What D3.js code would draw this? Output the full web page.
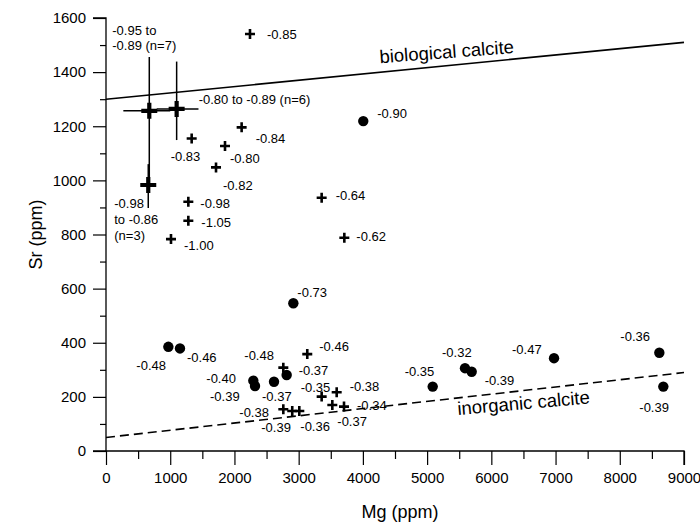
<!DOCTYPE html>
<html><head><meta charset="utf-8">
<script src="https://cdn.jsdelivr.net/npm/d3@7"></script>
<style>
html,body{margin:0;padding:0;background:#fff;}
svg{display:block;font-family:"Liberation Sans",Arial,sans-serif;}
</style></head>
<body>
<svg id="chart" width="700" height="530"></svg>
<script>
// ---------- DATA ----------
// small crosses (+)
const crossMg = [2242, 2112, 1853, 1334, 1713, 1282, 1282, 1012, 3358, 3711,
                 2761, 3134, 3358, 3592, 3524, 3706, 2761, 2900, 3010];
const crossSr = [1541, 1196, 1127, 1155, 1048, 921, 851, 783, 936, 788,
                 308, 358, 201, 217, 170, 164, 154, 148, 148];
const crossLabels = ["-0.85","-0.84","-0.80","-0.83","-0.82","-0.98","-1.05","-1.00","-0.64","-0.62",
                     "-0.48","-0.46","-0.35","-0.38","-0.37","-0.34","-0.38","-0.39","-0.36"];
// filled circles
const circleMg = [4006, 2917, 971, 1152, 2294, 2320, 2616, 2813, 5087, 5590, 5694, 6976, 8616, 8678];
const circleSr = [1219, 546, 385, 379, 260, 240, 256, 281, 238, 306, 293, 343, 363, 238];
const circleLabels = ["-0.90","-0.73","-0.48","-0.46","-0.40","-0.39","-0.37","-0.37","-0.35","-0.32","-0.39","-0.47","-0.36","-0.39"];
// grouped means with ranges (large crosses)
const groupMg = [674, 1100, 658];
const groupSr = [1257, 1264, 983];
const groupMgLow = [270, 790, 658];
const groupMgHigh = [1000, 1440, 658];
const groupSrLow = [983, 1149, 898];
const groupSrHigh = [1456, 1439, 1060];
const groupLabels = [["-0.95 to","-0.89 (n=7)"], ["-0.80 to -0.89 (n=6)"], ["-0.98","to -0.86","(n=3)"]];
// reference lines
const lineMg = [0, 9000];
const bioSr = [1300, 1510];
const inorgSr = [50, 290];
const lineNames = ["biological calcite", "inorganic calcite"];
// axis ticks
const xTicks = [0,1000,2000,3000,4000,5000,6000,7000,8000,9000];
const yTicks = [0,200,400,600,800,1000,1200,1400,1600];

// ---------- LAYOUT (label offsets in px) ----------
const crossLabelOff = [[17,5],[14,16],[5,17],[-21,23],[7,23],[12,6],[13,6],[13,11],[14,2],[12,3],
                       [-39,-8],[12,-3],[-21,-5],[13,-1],[5,21],[13,3],[-44,8],[-31,21],[1,20]];
const circleLabelOff = [[14,-3],[4,-6],[-32,23],[7,14],[-47,2],[-45,15],[-12,19],[12,0],
                        [-28,-11],[-23,-11],[13,13],[-42,-4],[-39,-12],[-24,25]];
const groupLabelOff = [[-37,-76],[22,-5],[-34,23]];
const groupLineGap = [15,15,16];

// ---------- CHART ----------
const svg = d3.select("#chart");
const x = d3.scaleLinear().domain([0, 9000]).range([106, 684]);
const y = d3.scaleLinear().domain([0, 1600]).range([451, 18]);
const ink = "#000";

// axes
const xAxis = svg.append("g").attr("transform", `translate(0,${y(0)})`)
  .call(d3.axisBottom(x).tickValues(xTicks).tickSize(14).tickPadding(7).tickFormat(d3.format("d")));
const xMinor = svg.append("g").attr("transform", `translate(0,${y(0)})`)
  .call(d3.axisBottom(x).tickValues(d3.range(500, 9000, 1000)).tickSize(8).tickFormat(""));
xMinor.select(".domain").remove();
const yAxis = svg.append("g").attr("transform", `translate(${x(0)},0)`)
  .call(d3.axisLeft(y).tickValues(yTicks).tickSize(13).tickPadding(7).tickFormat(d3.format("d")));
const yMinor = svg.append("g").attr("transform", `translate(${x(0)},0)`)
  .call(d3.axisLeft(y).tickValues(d3.range(100, 1600, 200)).tickSize(6).tickFormat(""));
yMinor.select(".domain").remove();
svg.selectAll(".domain").attr("stroke", ink).attr("stroke-width", 1.3);
svg.selectAll(".tick line").attr("stroke", ink).attr("stroke-width", 1.2);
svg.selectAll(".tick text").attr("fill", ink).style("font-size", "15px").style("font-family", '"Liberation Sans",Arial,sans-serif');
xAxis.select(".domain").attr("d", `M${x(0)-13},0H${x(9000)}V14`);
yAxis.select(".domain").attr("d", `M-13,${y(1600)}H0V${y(0)}`);

svg.append("text").attr("x", 400).attr("y", 518).attr("text-anchor", "middle")
  .style("font-size", "18px").text("Mg (ppm)");
svg.append("text").attr("transform", `translate(42,${(y(0)+y(1600))/2}) rotate(-90)`)
  .attr("text-anchor", "middle").style("font-size", "18px").text("Sr (ppm)");

// reference lines
const line = d3.line().x(d => x(d[0])).y(d => y(d[1]));
svg.append("path").attr("d", line(lineMg.map((m, i) => [m, bioSr[i]])))
  .attr("fill", "none").attr("stroke", ink).attr("stroke-width", 1.6);
svg.append("path").attr("d", line(lineMg.map((m, i) => [m, inorgSr[i]])))
  .attr("fill", "none").attr("stroke", ink).attr("stroke-width", 1.6).attr("stroke-dasharray", "9,5");
svg.append("text").attr("transform", `translate(${x(4266)},${y(1433)}) rotate(-4.3)`)
  .style("font-size", "18.5px").text(lineNames[0]);
svg.append("text").attr("transform", `translate(${x(5481)},${y(133)}) rotate(-5)`)
  .style("font-size", "18.5px").text(lineNames[1]);

// group error bars and large crosses
const gBars = svg.append("g").attr("stroke", ink).attr("stroke-width", 1.5);
groupMg.forEach((m, i) => {
  gBars.append("line").attr("x1", x(m)).attr("x2", x(m)).attr("y1", y(groupSrLow[i])).attr("y2", y(groupSrHigh[i]));
  if (groupMgHigh[i] > groupMgLow[i])
    gBars.append("line").attr("x1", x(groupMgLow[i])).attr("x2", x(groupMgHigh[i])).attr("y1", y(groupSr[i])).attr("y2", y(groupSr[i]));
});
const cross = (g, cx, cy, h, w) => {
  g.append("path").attr("d", `M${cx-h},${cy}H${cx+h}M${cx},${cy-h}V${cy+h}`)
    .attr("stroke", ink).attr("stroke-width", w).attr("fill", "none");
};
const gBig = svg.append("g");
groupMg.forEach((m, i) => cross(gBig, x(m), y(groupSr[i]), 8, 4.2));
groupMg.forEach((m, i) => {
  const t = svg.append("text").style("font-size", "13px")
    .attr("x", x(m) + groupLabelOff[i][0]).attr("y", y(groupSr[i]) + groupLabelOff[i][1]);
  groupLabels[i].forEach((s, k) => t.append("tspan").attr("x", x(m) + groupLabelOff[i][0])
    .attr("dy", k === 0 ? 0 : groupLineGap[i]).text(s));
});

// small crosses
const gCross = svg.append("g");
crossMg.forEach((m, i) => cross(gCross, x(m), y(crossSr[i]), 5, 2.6));
svg.append("g").selectAll("text").data(crossLabels).join("text")
  .style("font-size", "13px")
  .attr("x", (d, i) => x(crossMg[i]) + crossLabelOff[i][0])
  .attr("y", (d, i) => y(crossSr[i]) + crossLabelOff[i][1])
  .text(d => d);

// circles
svg.append("g").selectAll("circle").data(circleMg).join("circle")
  .attr("cx", d => x(d)).attr("cy", (d, i) => y(circleSr[i])).attr("r", 5.2).attr("fill", ink);
svg.append("g").selectAll("text").data(circleLabels).join("text")
  .style("font-size", "13px")
  .attr("x", (d, i) => x(circleMg[i]) + circleLabelOff[i][0])
  .attr("y", (d, i) => y(circleSr[i]) + circleLabelOff[i][1])
  .text(d => d);
</script>
</body></html>
